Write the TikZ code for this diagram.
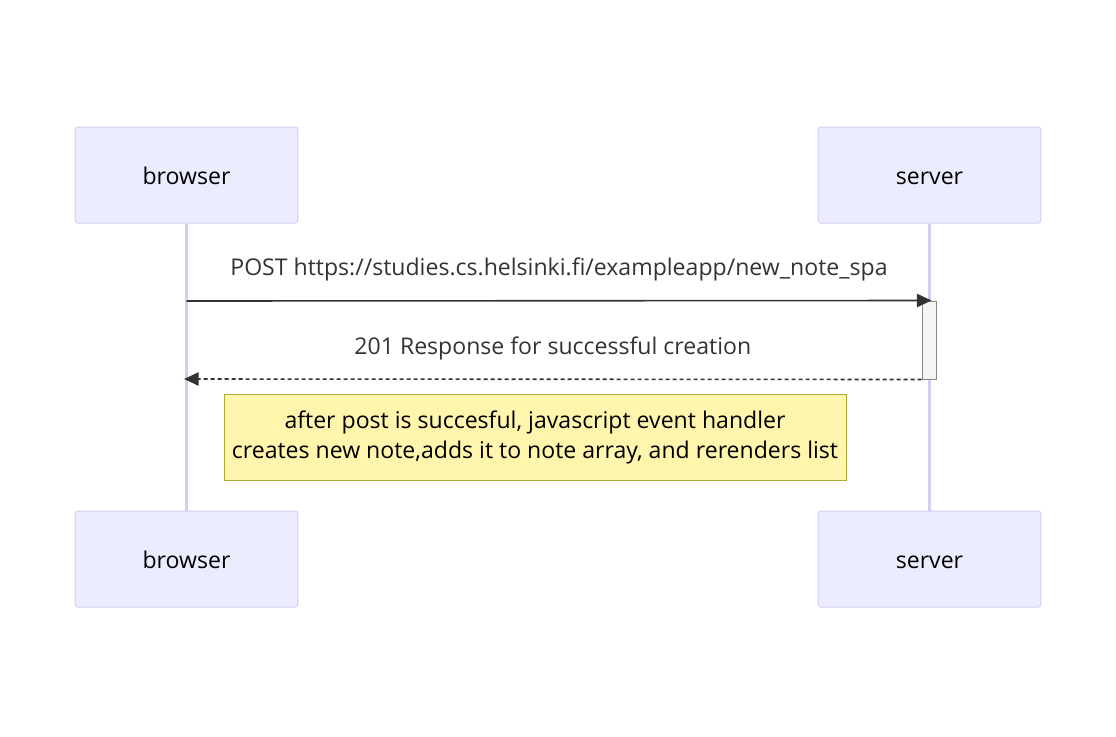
\documentclass[tikz,border=0pt]{standalone}
\usepackage{fontspec}
\setmainfont{Open Sans}
\usetikzlibrary{arrows.meta, positioning}

\definecolor{actorfill}{HTML}{ECECFF}
\definecolor{actorline}{HTML}{D7CBF4}
\definecolor{msgline}{HTML}{333333}
\definecolor{notefill}{HTML}{FFF5AD}
\definecolor{noteline}{HTML}{AAAA33}
\definecolor{actfill}{HTML}{F4F4F4}
\definecolor{actline}{HTML}{888888}

\begin{document}
\begin{tikzpicture}[
		x=0.75pt, y=-0.75pt,
		font=\fontsize{17.3}{21}\selectfont,
		actor/.style={
			draw=actorline,
			fill=actorfill,
			rectangle,
			rounded corners=2pt,
			line width=0.75pt,
			minimum width=167pt,
			minimum height=72pt,
			text height=14pt,
			text depth=0.5pt,
			text=black
		},
		lifeline/.style={draw=actorline, line width=2.2pt},
		msg/.style={text=msgline},
		arrow/.style={-{Triangle[length=11pt, width=10pt]}, draw=msgline, line width=1.2pt},
		reply/.style={arrow, dash pattern=on 3pt off 2.25pt},
		activation/.style={
			draw=actline,
			fill=actfill,
			rectangle,
			line width=0.75pt,
			minimum width=11pt,
			minimum height=58.5pt
		},
		note/.style={
			draw=noteline,
			fill=notefill,
			rectangle,
			align=center,
			line width=0.75pt,
			minimum width=466.5pt,
			minimum height=64.5pt,
			font=\fontsize{17.3}{22.5}\selectfont,
			text=black
		}
		]
		\useasboundingbox (0,0) rectangle (1116,736);
		
		% ---- Actors ----
		\node[actor] (browser) at (186.5,175) {browser};
		\node[actor] (server) at (929.5,175) {server};
		\node[actor] (browserend) at (186.5,559) {browser};
		\node[actor] (serverend) at (929.5,559) {server};
		
		% ---- Lifelines ----
		\draw[lifeline] (browser) -- (browserend);
		\draw[lifeline] (server) -- (serverend);
		
		% ---- Activation ----
		\node[activation] (act) at (929.5,340) {};
		
		\coordinate (postfrom) at (186.5,301);
		\coordinate (replyto) at (184,379);
		
		% ---- Messages ----
		\draw[arrow] (postfrom) -- node[msg, midway, yshift=23.25pt]
		{POST https://studies.cs.helsinki.fi/exampleapp/new\_note\_spa} ([xshift=1.5pt]act.north);
		\draw[reply] (act.south west) -- node[msg, midway, yshift=23.25pt]
		{201 Response for successful creation} (replyto);
		
		% ---- Note ----
		\node[note] (handler) at (535,437)
		{after post is succesful, javascript event handler\\creates new note,adds it to note array, and rerenders list};
		
	\end{tikzpicture}
\end{document}
